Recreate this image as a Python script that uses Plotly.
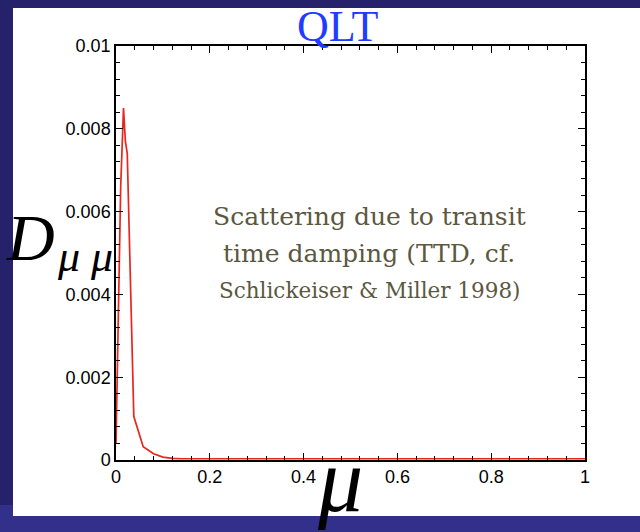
import plotly.graph_objects as go

# data
mu = [0.0, 0.004, 0.010, 0.016, 0.020, 0.024, 0.038, 0.058, 0.080, 0.100, 0.120, 0.140,
      0.20, 0.30, 0.40, 0.50, 0.60, 0.70, 0.80, 0.90, 1.00]
d_mumu = [0.0004, 0.0030, 0.0066, 0.0085, 0.0077, 0.0074, 0.00105, 0.00032, 0.00015,
          0.00007, 0.00004, 0.00003, 0.00003, 0.00003, 0.00003, 0.00003, 0.00003,
          0.00003, 0.00003, 0.00003, 0.00003]

x_tickvals = [0, 0.2, 0.4, 0.6, 0.8, 1.0]
x_ticktext = ["0", "0.2", "0.4", "0.6", "0.8", "1"]
y_tickvals = [0, 0.002, 0.004, 0.006, 0.008, 0.01]
y_ticktext = ["0", "0.002", "0.004", "0.006", "0.008", "0.01"]

W, H = 640, 532
L, R, T, B = 116, 585, 46, 460


def px(xp):
    return (xp - L) / (R - L)


def py(yp):
    return (B - yp) / (B - T)


fig = go.Figure()
fig.add_trace(go.Scatter(x=mu, y=d_mumu, mode="lines",
                         line=dict(color="#e8261c", width=1.7),
                         showlegend=False, hoverinfo="skip"))

shapes = [
    # lighter bottom band
    dict(type="rect", xref="paper", yref="paper", x0=px(0), x1=px(W), y0=py(H), y1=py(505),
         fillcolor="#33308c", line=dict(width=0), layer="below"),
    # white slide area
    dict(type="rect", xref="paper", yref="paper", x0=px(13), x1=px(W + 5), y0=py(516), y1=py(8),
         fillcolor="white", line=dict(width=0), layer="below"),
]

ann = []
ann.append(dict(text="QLT", x=px(338), y=py(26), xref="paper", yref="paper",
                showarrow=False, xanchor="center", yanchor="middle",
                font=dict(family="Liberation Serif", size=44, color="#1f3cff")))
ann.append(dict(text="<i>D</i>", x=px(30), y=py(238), xref="paper", yref="paper",
                showarrow=False, xanchor="center", yanchor="middle",
                font=dict(family="Liberation Serif", size=66, color="black")))
ann.append(dict(text="<i>μ μ</i>", x=px(85), y=py(256), xref="paper", yref="paper",
                showarrow=False, xanchor="center", yanchor="middle",
                font=dict(family="Liberation Serif", size=44, color="black")))
ann.append(dict(text="<i>μ</i>", x=px(340), y=py(480), xref="paper", yref="paper",
                showarrow=False, xanchor="center", yanchor="middle",
                font=dict(family="Liberation Serif", size=90, color="black")))
tc = "#5b583f"
ann.append(dict(text="Scattering due to transit", x=px(369), y=py(216), xref="paper", yref="paper",
                showarrow=False, xanchor="center", yanchor="middle",
                font=dict(family="DejaVu Serif", size=25, color=tc)))
ann.append(dict(text="time damping (TTD, cf.", x=px(369), y=py(253), xref="paper", yref="paper",
                showarrow=False, xanchor="center", yanchor="middle",
                font=dict(family="DejaVu Serif", size=25, color=tc)))
ann.append(dict(text="Schlickeiser &amp; Miller 1998)", x=px(369), y=py(290), xref="paper", yref="paper",
                showarrow=False, xanchor="center", yanchor="middle",
                font=dict(family="DejaVu Serif", size=21.5, color=tc)))

axis_common = dict(showline=True, linecolor="black", linewidth=1.5, mirror="ticks",
                   ticks="inside", ticklen=7, tickwidth=1.2, tickcolor="black",
                   showgrid=False, zeroline=False,
                   tickfont=dict(family="Liberation Sans", size=18, color="black"))

fig.update_layout(
    width=W, height=H,
    margin=dict(l=L, r=W - R, t=T, b=H - B, pad=0),
    paper_bgcolor="#26216b",
    plot_bgcolor="white",
    shapes=shapes,
    annotations=ann,
    xaxis=dict(range=[0, 1], tickvals=x_tickvals, ticktext=x_ticktext,
               minor=dict(dtick=0.04, tick0=0, ticks="inside", ticklen=4, tickcolor="black", tickwidth=1),
               **axis_common),
    yaxis=dict(range=[0, 0.01], tickvals=y_tickvals, ticktext=y_ticktext,
               minor=dict(dtick=0.0004, tick0=0, ticks="inside", ticklen=4, tickcolor="black", tickwidth=1),
               **axis_common),
)

fig.write_html("out.html",
               config={"displayModeBar": False},
               post_script="document.body.style.margin='0';document.body.style.overflow='hidden';")
